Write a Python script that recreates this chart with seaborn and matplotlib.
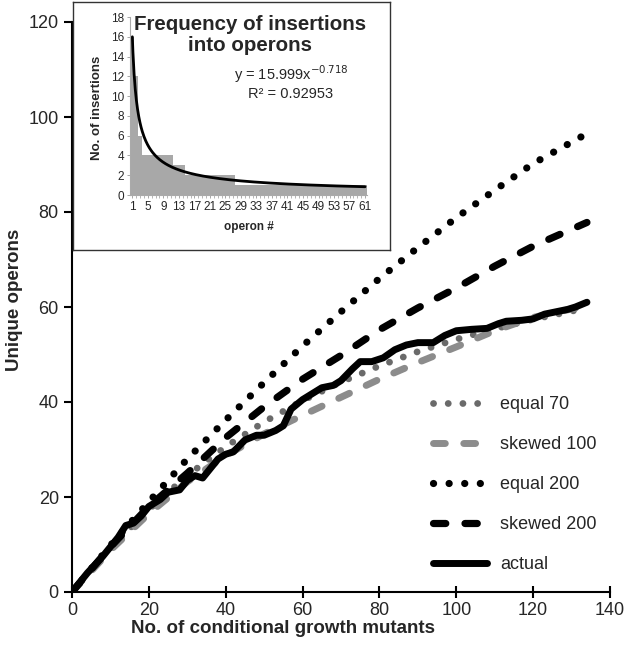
import numpy as np
import pandas as pd
import matplotlib
matplotlib.use("Agg")
import matplotlib.pyplot as plt
from matplotlib.ticker import FixedLocator
import seaborn as sns

# --- main panel: unique operons hit vs. number of mutants ---
sim_x = [0, 10, 20, 30, 40, 50, 60, 70, 80, 90, 100, 110, 120, 134]
equal_70 = [0, 9.3, 17.4, 24.5, 30.6, 35.8, 40.3, 44.2, 47.6, 50.6, 53.2, 55.4, 57.4, 59.8]
skewed_100 = [0, 8.8, 16.5, 23.2, 28.7, 33.3, 37.2, 41.0, 44.8, 48.3, 51.6, 55.0, 57.8, 60.3]
equal_200 = [0, 9.8, 19.0, 28.0, 36.2, 44.1, 51.8, 59.0, 66.0, 72.5, 78.8, 84.6, 90.2, 96.5]
skewed_200 = [0, 9.5, 18.0, 25.0, 32.5, 39.0, 44.8, 49.8, 55.2, 59.8, 64.0, 68.6, 72.8, 77.8]

actual_x = [0, 4, 8, 12, 14, 16, 18, 20, 23, 25, 28, 30, 32, 34, 36, 38, 40, 42, 45,
            48, 50, 53, 55, 57, 60, 62, 65, 68, 70, 73, 75, 78, 81, 84, 87, 90, 94,
            97, 100, 104, 108, 111, 113, 117, 120, 123, 126, 129, 131, 134]
actual_y = [0, 4, 7.5, 11.5, 14, 14.5, 16, 18, 19.5, 21, 21.5, 23.5, 24.5, 24, 26, 28,
            29, 29.5, 32, 33, 33, 34, 35, 38.5, 40.5, 41.5, 43, 43.5, 44.5, 47, 48.5,
            48.5, 49.3, 51, 52, 52.5, 52.5, 54, 55, 55.3, 55.5, 56.5, 57, 57.2, 57.5,
            58.5, 59, 59.5, 60, 61]

# --- inset: insertions per operon ---
operon_no = list(range(1, 62))
insertions = [16, 12, 6, 4, 4, 4, 4, 4, 4, 4, 4, 3, 3, 3, 2, 2, 2, 2, 2, 2, 2, 2,
              2, 2, 2, 2, 2, 1, 1, 1, 1, 1, 1, 1, 1, 1, 1, 1, 1, 1, 1, 1, 1, 1, 1,
              1, 1, 1, 1, 1, 1, 1, 1, 1, 1, 1, 1, 1, 1, 1, 1]
fit_a, fit_b = 15.999, -0.718   # power trendline shown on the chart

sns.set_style("ticks")
plt.rcParams["font.family"] = ["Liberation Sans", "DejaVu Sans"]

W, H = 625, 659
fig = plt.figure(figsize=(W / 100, H / 100), dpi=100)

def fx(px):
    return px / W

def fy(py):
    return (H - py) / H

ax = fig.add_axes([fx(72), fy(592), fx(610) - fx(72), fy(22) - fy(592)])

dots = (0, (0.01, 2.15))
dashes = (0, (1.7, 2.66))
line_specs = [
    ("equal 70", sim_x, equal_70, "#6a6a6a", 4.9, dots),
    ("skewed 100", sim_x, skewed_100, "#8c8c8c", 5.0, dashes),
    ("equal 200", sim_x, equal_200, "black", 5.2, dots),
    ("skewed 200", sim_x, skewed_200, "black", 5.2, dashes),
    ("actual", actual_x, actual_y, "black", 5.0, "-"),
]
for name, xs, ys, col, lw, ls in line_specs:
    sns.lineplot(x=xs, y=ys, ax=ax, color=col, lw=lw, linestyle=ls,
                 dash_capstyle="round", solid_capstyle="round",
                 solid_joinstyle="round", label=name)

ax.set_xlim(0, 140)
ax.set_ylim(0, 120)
ax.set_xticks(range(0, 141, 20))
ax.set_yticks(range(0, 121, 20))
sns.despine(ax=ax)
for s in ["left", "bottom"]:
    ax.spines[s].set_linewidth(1.5)
    ax.spines[s].set_color("black")
ax.tick_params(axis="both", labelsize=13, width=1.5, length=6, color="black")
ax.tick_params(axis="x", direction="inout", length=8)

ax.set_xlabel("No. of conditional growth mutants", fontsize=13.5, fontweight="bold")
ax.set_ylabel("Unique operons", fontsize=13.5, fontweight="bold")
ax.xaxis.set_label_coords(0.393, -0.049)
ax.yaxis.set_label_coords(-0.092, 0.512)

ax.legend(loc="upper left", bbox_to_anchor=(fx(433), fy(396)),
          bbox_transform=fig.transFigure, frameon=False, fontsize=13,
          handlelength=3.0, handletextpad=0.7, labelspacing=1.28,
          borderpad=0, borderaxespad=0)

# --- inset frame ---
frame = fig.add_axes([fx(73), fy(250), fx(390) - fx(73), fy(2) - fy(250)])
frame.set_xticks([])
frame.set_yticks([])
frame.set_facecolor("white")
for s in frame.spines.values():
    s.set_visible(True)
    s.set_color("#333333")
    s.set_linewidth(1.0)

# --- inset chart ---
axi = fig.add_axes([fx(130.4), fy(195), fx(367) - fx(130.4), fy(17) - fy(195)])
axi.patch.set_alpha(0)
sns.barplot(x=operon_no, y=insertions, ax=axi, native_scale=True, width=1,
            color="#a8a8a8", saturation=1, errorbar=None, linewidth=0)
fit_x = np.linspace(1, 61, 400)
sns.lineplot(x=fit_x, y=fit_a * fit_x ** fit_b, ax=axi, color="black", lw=2.0)

axi.set_xlim(0.5, 61.5)
axi.set_ylim(0, 18)
axi.set_xticks(range(1, 62, 4))
axi.xaxis.set_minor_locator(FixedLocator(operon_no))
axi.set_yticks(range(0, 19, 2))
sns.despine(ax=axi)
for s in ["left", "bottom"]:
    axi.spines[s].set_color("#aaaaaa")
    axi.spines[s].set_linewidth(0.8)
axi.tick_params(axis="both", labelsize=8.5, length=2.5, width=0.6, color="#999999", pad=2)
axi.tick_params(axis="x", which="minor", length=2, width=0.5, color="#999999")
axi.set_xlabel("")
axi.set_ylabel("")

fig.text(fx(97), fy(108), "No. of insertions", rotation=90, ha="center", va="center",
         fontsize=9.5, fontweight="bold")
fig.text(fx(249), fy(227), "operon #", ha="center", va="center",
         fontsize=8.5, fontweight="bold")
fig.text(fx(250), fy(35), "Frequency of insertions\ninto operons", ha="center",
         va="center", fontsize=14.8, fontweight="bold", linespacing=1.1)
fig.text(fx(291), fy(74), r"y = 15.999x$^{-0.718}$", ha="center", va="center",
         fontsize=10.5)
fig.text(fx(291), fy(94), "R² = 0.92953", ha="center", va="center", fontsize=10.5)

fig.savefig("out.png", dpi=100)
